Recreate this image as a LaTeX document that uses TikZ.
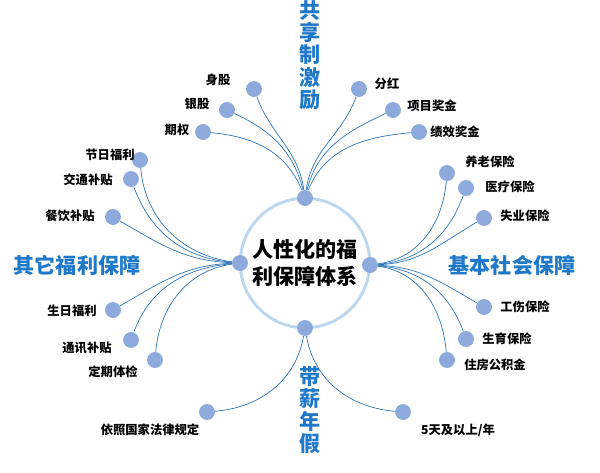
\documentclass[tikz,border=0pt]{standalone}
\usepackage{fontspec}
\setmainfont{Noto Sans CJK SC}
\definecolor{tblue}{HTML}{1F78C8}
\definecolor{dotc}{HTML}{8EAADC}
\definecolor{linec}{HTML}{2E75B6}
\definecolor{ringc}{HTML}{BDD7EE}
\begin{document}
\begin{tikzpicture}[x=0.03cm,y=0.03cm,
  dotn/.style={circle,fill=dotc,inner sep=0pt,minimum size=16*0.85pt},
  lab/.style={font=\fontsize{10.5}{12}\selectfont\bfseries,text=black},
  ttl/.style={font=\fontsize{18}{19}\selectfont\bfseries,text=tblue,align=center},
  con/.style={linec,line width=0.6pt}]
\useasboundingbox (0,0) rectangle (600,472);
\node[circle,draw=ringc,line width=2.5pt,minimum size=130*0.85pt,inner sep=0pt] (c) at (305,209) {};
\node[font=\fontsize{18}{23}\selectfont\bfseries,align=center] (ct) at (305,209) {人性化的福\\利保障体系};
\node[dotn] (at) at (305,274) {};
\node[dotn] (ar) at (370,207) {};
\node[dotn] (al) at (240,209) {};
\node[dotn] (ab) at (305,144) {};
\node[ttl] (t1) at (310,417) {共\\享\\制\\激\\励};
\node[ttl] (t2) at (310,62) {带\\薪\\年\\假};
\node[ttl] (t3) at (512,207) {基本社会保障};
\node[ttl] (t4) at (77,207) {其它福利保障};
% top
\foreach \n/\x/\y/\lx/\ly/\t/\o/\i in {
 a1/254/383/218/392/身股/98/-70,
 a2/227/362/197/368/银股/104/-25,
 a3/203/340/177/342/期权/112/-5,
 a4/359/383/387/388/分红/82/-110,
 a5/393/362/432/366/项目奖金/76/-155,
 a6/419/340/455/340/绩效奖金/68/-175}{
 \node[dotn] (\n) at (\x,\y) {};
 \node[lab] (\n l) at (\lx,\ly) {\t};
 \draw[con] (at) to[out=\o,in=\i] (\n);
}
% right
\foreach \n/\x/\y/\lx/\ly/\t/\o/\i in {
 b1/447/299/490/310/养老保险/8/-95,
 b2/466/284/510/285/医疗保险/5/-110,
 b3/484/254/525/256/失业保险/2/-150,
 b4/484/165/525/165/工伤保险/-2/150,
 b5/466/133/507/133/生育保险/-5/110,
 b6/447/112/495/107/住房公积金/-8/95}{
 \node[dotn] (\n) at (\x,\y) {};
 \node[lab] (\n l) at (\lx,\ly) {\t};
 \draw[con] (ar) to[out=\o,in=\i] (\n);
}
% left
\foreach \n/\x/\y/\lx/\ly/\t/\o/\i in {
 c1/140/312/110/317/节日福利/172/-85,
 c2/131/293/88/292/交通补贴/175/-70,
 c3/113/255/70/256/餐饮补贴/178/-30,
 c4/113/162/72/161/生日福利/-178/30,
 c5/131/132/87/124/通讯补贴/-175/70,
 c6/155/112/113/100/定期体检/-172/85}{
 \node[dotn] (\n) at (\x,\y) {};
 \node[lab] (\n l) at (\lx,\ly) {\t};
 \draw[con] (al) to[out=\o,in=\i] (\n);
}
% bottom
\node[dotn] (d1) at (207,60) {};
\node[lab] (d1l) at (150,42) {依照国家法律规定};
\draw[con] (ab) to[out=-100,in=5] (d1);
\node[dotn] (d2) at (403,60) {};
\node[lab] (d2l) at (458,42) {5天及以上/年};
\draw[con] (ab) to[out=-80,in=175] (d2);
\end{tikzpicture}
\end{document}
